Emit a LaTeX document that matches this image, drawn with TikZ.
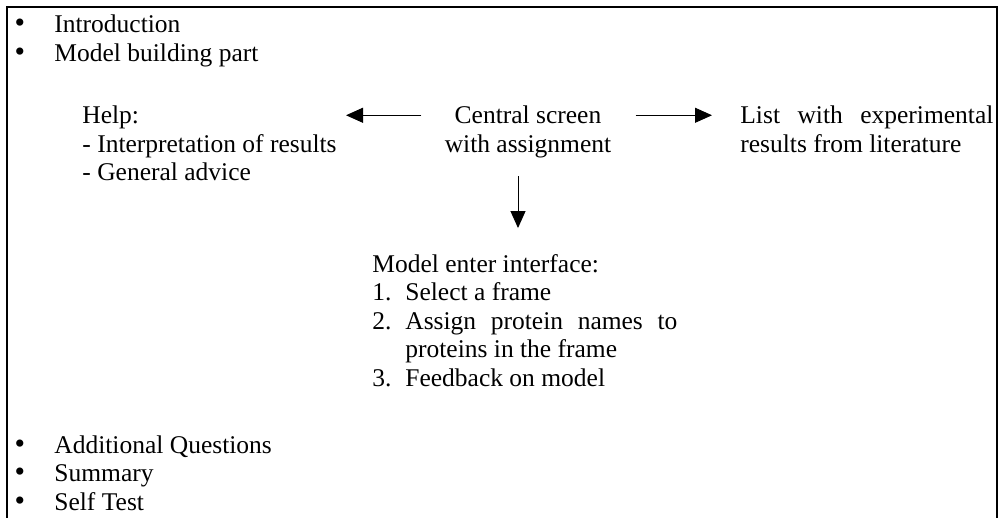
\documentclass[tikz,border=0pt]{standalone}
\usepackage{fontspec}
\setmainfont{Liberation Serif}
\usetikzlibrary{arrows.meta}
\usetikzlibrary{calc}
\tikzset{
	txt/.style={inner sep=0pt, anchor=base west, font=\fontsize{12.75}{14.25}\selectfont},
	arr/.style={-{Triangle[length=8.5pt,width=7.5pt]}, line width=0.5pt}
}
\newcommand{\bulletitem}[3] % node name, y in px, text
{
	% bullet
	\node[txt, anchor=base, font=\fontsize{15}{15}\selectfont] (#1dot) at (20,#2) {\textbullet};
	% item text
	\node[txt] (#1) at (54,#2) {#3};
}

\begin{document}
\begin{tikzpicture}[x=0.5pt, y=-0.5pt]
	% page: 1000px x 518px, y pointing down
	\fill[white] (0,0) rectangle (1000,518);
	\useasboundingbox (0,0) rectangle (1000,518);
	\draw[line width=1pt] (7,518) -- (7,7) -- (997,7) -- (997,518);
	
	\bulletitem{intro}{33}{Introduction}
	\bulletitem{building}{62}{Model building part}
	
	% help
	\node[txt] (help) at (82,124) {Help:};
	\node[txt] (interp) at (82,152.5) {- Interpretation of results};
	\node[txt] (advice) at (82,181) {- General advice};
	
	% central screen
	\node[txt, anchor=base] (central) at (528,124) {Central screen};
	\node[txt, anchor=base] (assign) at (528,152.5) {with assignment};
	
	% literature list
	\node[txt] (list) at (740,124) {\makebox[126.5pt][s]{List with experimental}};
	\node[txt] (results) at (740,152.5) {results from literature};
	
	% model enter interface
	\node[txt] (modelhdr) at (372,272) {Model enter interface:};
	\node[txt] (num1) at (372,300.5) {1.};
	\node[txt] (frame) at (405,300.5) {Select a frame};
	\node[txt] (num2) at (372,329) {2.};
	\node[txt] (names) at (405,329) {\makebox[136pt][s]{Assign protein names to}};
	\node[txt] (proteins) at (405,357.5) {proteins in the frame};
	\node[txt] (num3) at (372,386) {3.};
	\node[txt] (feedback) at (405,386) {Feedback on model};
	
	\bulletitem{questions}{453}{Additional Questions}
	\bulletitem{summary}{481.5}{Summary}
	\bulletitem{selftest}{510}{Self Test}
	
	% arrows
	\draw[arr, shorten <=16.5pt, shorten >=4.5pt] (central.west) -- (central.west -| interp.east);
	\draw[arr, shorten <=17pt, shorten >=14pt] (central.east) -- (central.east -| list.west);
	\draw[arr, shorten <=9pt, shorten >=12.8pt] ([xshift=-5pt]assign.south) -- ([xshift=-5pt]assign.south |- modelhdr.north);
\end{tikzpicture}
\end{document}
